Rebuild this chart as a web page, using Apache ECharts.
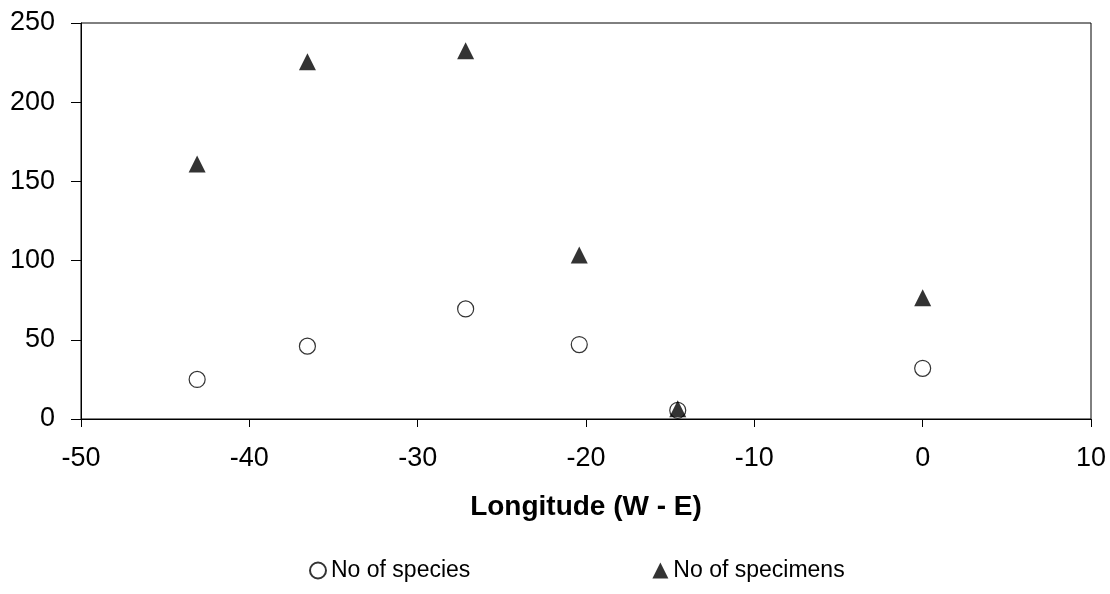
<!DOCTYPE html>
<html>
<head>
<meta charset="utf-8">
<script src="https://cdn.jsdelivr.net/npm/echarts@6/dist/echarts.min.js"></script>
<style>
  html, body { margin: 0; padding: 0; background: #fff; }
  #chart { width: 1110px; height: 594px; }
</style>
</head>
<body>
<div id="chart"></div>
<script>
// longitude of each sampling site
const longitude = [-43.1, -36.55, -27.15, -20.4, -14.55, 0];
const species = [25, 46, 69.5, 47, 5.5, 32];
const specimens = [161, 225.5, 232.5, 103.5, 6.5, 76.5];

const chart = echarts.init(document.getElementById('chart'));

const font = 'Liberation Sans, Arial, sans-serif';

const options = {
  animation: false,
  textStyle: { fontFamily: font },
  grid: {
    left: 81, right: 19, top: 23, bottom: 175,
    show: true, borderColor: '#000', borderWidth: 1
  },
  legend: {
    top: 554,
    left: 304,
    itemGap: 182,
    itemWidth: 16,
    itemHeight: 16,
    textStyle: { fontSize: 23, color: '#000', fontFamily: font },
    data: ['No of species', 'No of specimens']
  },
  xAxis: {
    type: 'value',
    min: -50, max: 10, interval: 10,
    name: 'Longitude (W - E)',
    nameLocation: 'middle',
    nameGap: 74,
    nameTextStyle: { fontSize: 28, fontWeight: 'bold', color: '#000' },
    axisLine: { onZero: false, lineStyle: { color: '#000' } },
    axisTick: { length: 8, lineStyle: { color: '#000' } },
    axisLabel: { fontSize: 27, color: '#000', margin: 26 },
    splitLine: { show: false }
  },
  yAxis: {
    type: 'value',
    min: 0, max: 250, interval: 50,
    axisLine: { show: true, onZero: false, lineStyle: { color: '#000' } },
    axisTick: { show: true, length: 10, lineStyle: { color: '#000' } },
    axisLabel: { fontSize: 27, color: '#000', margin: 26 },
    splitLine: { show: false }
  },
  series: [
    {
      name: 'No of species',
      type: 'scatter',
      symbol: 'circle',
      symbolSize: 16,
      itemStyle: { color: '#fff', borderColor: '#000', borderWidth: 1.2 },
      data: longitude.map((x, i) => [x, species[i]])
    },
    {
      name: 'No of specimens',
      type: 'scatter',
      symbol: 'triangle',
      symbolSize: 17,
      itemStyle: { color: '#000' },
      data: longitude.map((x, i) => [x, specimens[i]])
    }
  ]
};

chart.setOption(options);
</script>
</body>
</html>
